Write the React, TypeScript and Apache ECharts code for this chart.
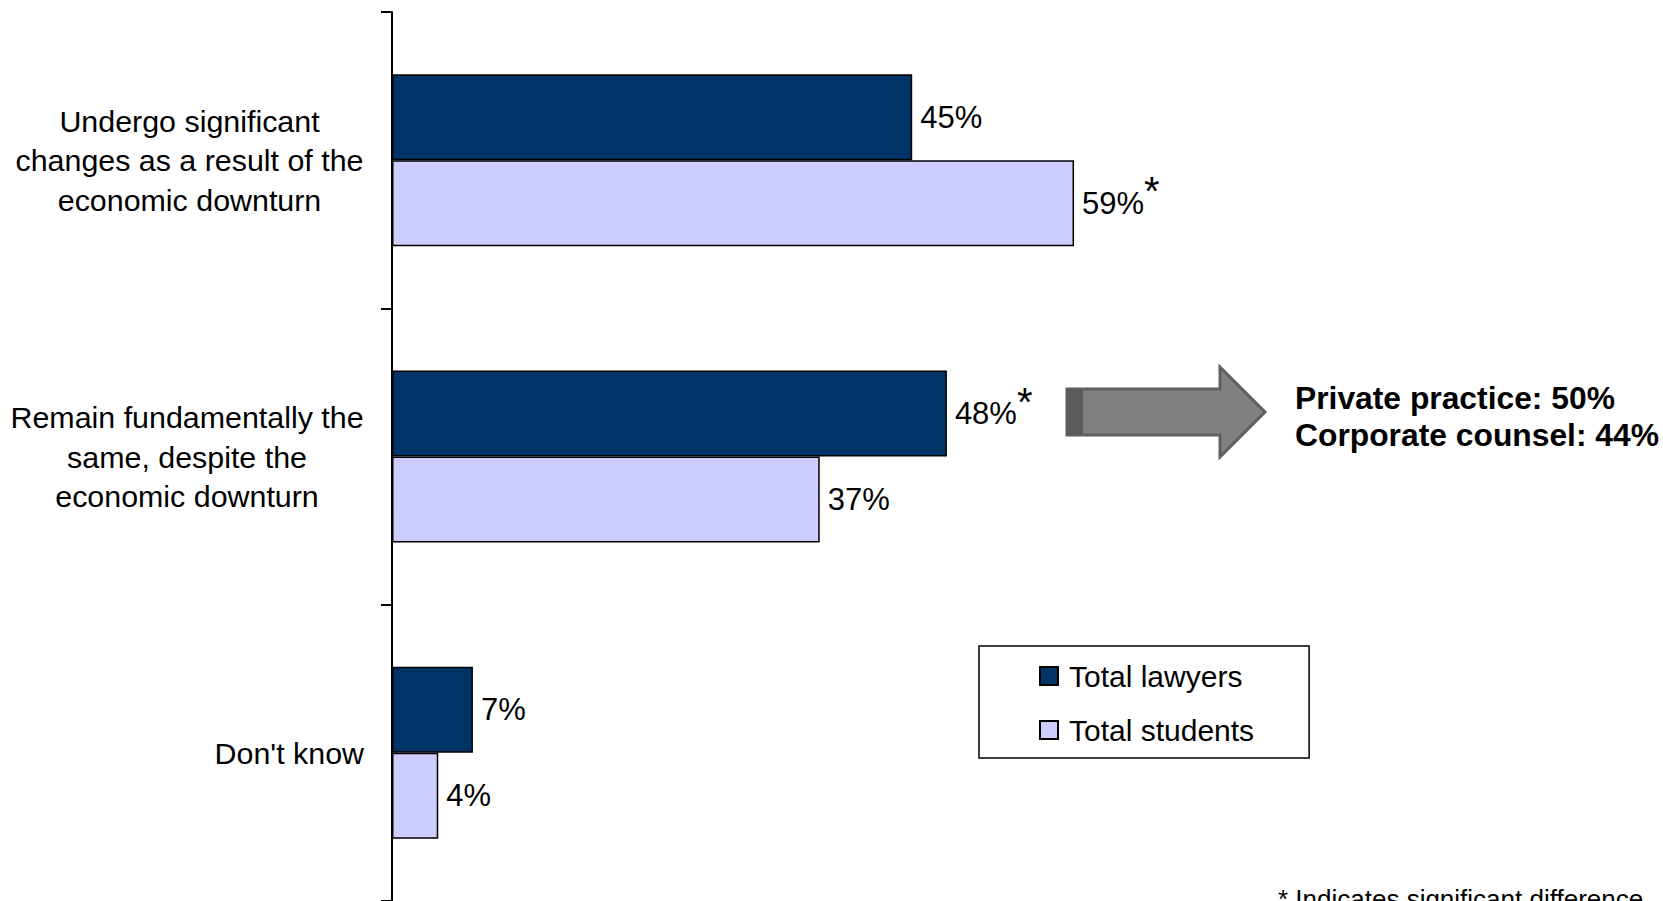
import React, { useEffect, useRef } from "react";
import * as echarts from "echarts";

const categories = [
  "Undergo significant\nchanges as a result of the\neconomic downturn",
  "Remain fundamentally the\nsame, despite the\neconomic downturn",
  "Don't know",
];
const seriesNames = ["Total lawyers", "Total students"];
const lawyers = [45, 48, 7];
const students = [59, 37, 4];
const lawyersSignificant = [false, true, false];
const studentsSignificant = [true, false, false];
const calloutLines = ["Private practice: 50%", "Corporate counsel: 44%"];
const footnote = "* Indicates significant difference";

const FONT = '"Liberation Sans", Arial, sans-serif';

function measure(text: string, size: number): number {
  const c = document.createElement("canvas");
  const ctx = c.getContext("2d");
  if (!ctx) return text.length * size * 0.5;
  ctx.font = `${size}px "Liberation Sans", Arial, sans-serif`;
  return ctx.measureText(text).width;
}

export default function App() {
  const ref = useRef<HTMLDivElement>(null);

  useEffect(() => {
    if (!ref.current) return;
    const chart = echarts.init(ref.current, undefined, { renderer: "svg" });

    const catFont = 30.4;
    const valueLabel = (sig: boolean[]) => ({
      show: true,
      position: "right",
      distance: 8,
      formatter: (p: any) =>
        sig[p.dataIndex] ? `{v|${p.value}%}{s|*}` : `{v|${p.value}%}`,
      rich: {
        v: { fontSize: 31, fontFamily: FONT, color: "#000", lineHeight: 36 },
        s: {
          fontSize: 40,
          fontFamily: FONT,
          color: "#000",
          lineHeight: 14,
          padding: [0, 0, 24, 0],
        },
      },
    });

    chart.setOption({
      animation: false,
      backgroundColor: "#fff",
      grid: { left: 392, top: 12, width: 1156, height: 889 },
      xAxis: { type: "value", min: 0, max: 100, show: false },
      yAxis: {
        type: "category",
        inverse: true,
        data: categories,
        axisLine: { show: true, lineStyle: { color: "#000", width: 2 } },
        axisTick: { show: true, length: 11, lineStyle: { color: "#000", width: 2 } },
        axisLabel: {
          margin: 28,
          color: "#000",
          formatter: (val: string) => {
            const lines = val.split("\n");
            if (lines.length === 1) return `{d|${val}}`;
            const w = Math.ceil(Math.max(...lines.map((l) => measure(l, catFont))));
            return lines.map((l) => `{c${w}|${l}}`).join("\n");
          },
          rich: (() => {
            const r: any = {
              d: { fontSize: catFont, fontFamily: FONT, color: "#000", lineHeight: 40 },
            };
            categories.forEach((cat) => {
              const lines = cat.split("\n");
              if (lines.length > 1) {
                const w = Math.ceil(Math.max(...lines.map((l) => measure(l, catFont))));
                r["c" + w] = {
                  fontSize: catFont,
                  fontFamily: FONT,
                  color: "#000",
                  lineHeight: 39.5,
                  width: w,
                  align: "center",
                };
              }
            });
            return r;
          })(),
        },
        splitLine: { show: false },
      },
      legend: {
        data: seriesNames,
        orient: "vertical",
        left: 979,
        top: 646,
        padding: [12, 55, 10, 60],
        itemWidth: 18,
        itemHeight: 18,
        itemGap: 18,
        icon: "rect",
        borderColor: "#000",
        borderWidth: 1.5,
        textStyle: {
          fontSize: 30,
          fontFamily: FONT,
          color: "#000",
          lineHeight: 36,
          padding: [0, 0, 0, 6],
        },
      },
      series: [
        {
          name: seriesNames[0],
          type: "bar",
          data: lawyers,
          barWidth: 86,
          barGap: "0%",
          itemStyle: { color: "#003366", borderColor: "#000", borderWidth: 1.5 },
          label: valueLabel(lawyersSignificant),
        },
        {
          name: seriesNames[1],
          type: "bar",
          data: students,
          barWidth: 86,
          barGap: "0%",
          itemStyle: { color: "#CCCCFF", borderColor: "#000", borderWidth: 1.5 },
          label: valueLabel(studentsSignificant),
        },
      ],
      graphic: [
        {
          type: "polygon",
          shape: {
            points: [
              [1067, 389],
              [1220, 389],
              [1220, 367],
              [1265, 412],
              [1220, 457],
              [1220, 435],
              [1067, 435],
            ],
          },
          style: { fill: "#808080", stroke: "#606060", lineWidth: 3 },
        },
        {
          type: "rect",
          shape: { x: 1067, y: 389, width: 16, height: 46 },
          style: { fill: "#5c5c5c" },
        },
        {
          type: "text",
          x: 1295,
          y: 416.5,
          style: {
            text: calloutLines.join("\n"),
            fontSize: 31.8,
            fontWeight: "bold",
            fontFamily: FONT,
            fill: "#000",
            lineHeight: 37,
            align: "left",
            verticalAlign: "middle",
          },
        },
        {
          type: "text",
          x: 1278,
          y: 886,
          style: {
            text: footnote,
            fontSize: 26,
            fontFamily: FONT,
            fill: "#000",
            align: "left",
            verticalAlign: "top",
          },
        },
      ],
    });

    return () => chart.dispose();
  }, []);

  return (
    <div
      ref={ref}
      style={{ position: "absolute", left: 0, top: 0, width: 1663, height: 901, background: "#fff" }}
    />
  );
}
